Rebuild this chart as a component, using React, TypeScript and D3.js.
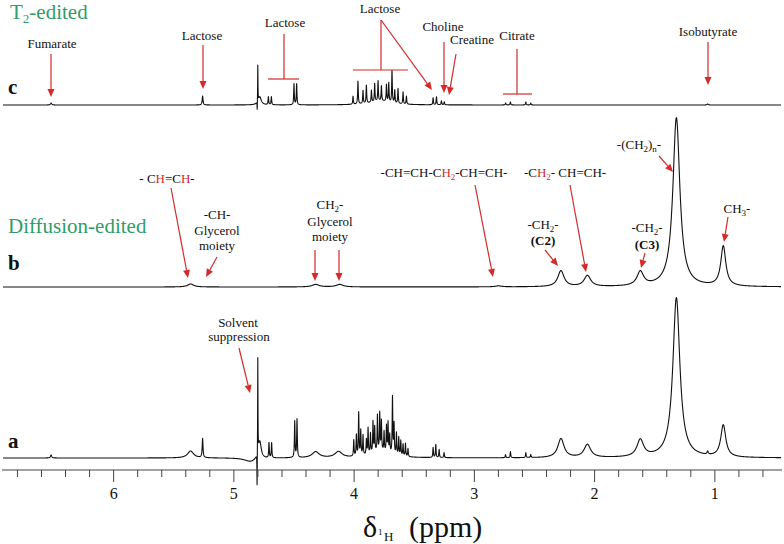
import React from "react";
import * as d3 from "d3";

const WIDTH = 784;
const HEIGHT = 544;
const PPM_LEFT = 6.92;
const PPM_RIGHT = 0.45;

const majorTicks = [6, 5, 4, 3, 2, 1];
const tickLabels = ["6", "5", "4", "3", "2", "1"];

// Peak lists: [chemical shift (ppm), intensity, half-width (ppm)]
const peaksA: [number, number, number][] = [
  [6.52, 3, 0.006],
  [5.36, 7, 0.03],
  [5.26, 19, 0.004],
  [4.86, -4, 0.06],
  [4.801, 96, 0.0015],
  [4.807, -36, 0.0015],
  [4.785, 18, 0.015],
  [4.708, 15, 0.003],
  [4.686, 15, 0.003],
  [4.494, 36, 0.003],
  [4.475, 38, 0.003],
  [4.32, 6, 0.035],
  [4.13, 6, 0.035],
  [4.003, 16, 0.003],
  [3.981, 21, 0.003],
  [3.962, 43, 0.003],
  [3.945, 25, 0.003],
  [3.926, 20, 0.003],
  [3.898, 15, 0.003],
  [3.884, 26, 0.003],
  [3.864, 20, 0.003],
  [3.843, 31, 0.003],
  [3.829, 25, 0.003],
  [3.806, 36, 0.003],
  [3.787, 38, 0.003],
  [3.773, 30, 0.003],
  [3.751, 20, 0.003],
  [3.731, 26, 0.003],
  [3.718, 30, 0.003],
  [3.704, 18, 0.003],
  [3.681, 57, 0.003],
  [3.668, 30, 0.003],
  [3.648, 22, 0.003],
  [3.629, 18, 0.003],
  [3.612, 15, 0.003],
  [3.593, 12, 0.003],
  [3.573, 13, 0.003],
  [3.552, 8, 0.003],
  [3.78, 6, 0.1],
  [3.343, 10, 0.003],
  [3.321, 13, 0.003],
  [3.293, 8, 0.003],
  [3.252, 5, 0.003],
  [2.741, 3, 0.003],
  [2.7, 6, 0.003],
  [2.572, 5, 0.003],
  [2.531, 3, 0.003],
  [2.28, 19, 0.031],
  [2.06, 13, 0.033],
  [1.62, 17, 0.033],
  [1.32, 160, 0.035],
  [1.06, 3, 0.006],
  [0.93, 32, 0.025],
];

const peaksB: [number, number, number][] = [
  [5.36, 3, 0.03],
  [4.32, 2.5, 0.035],
  [4.12, 2.5, 0.035],
  [2.8, 1, 0.03],
  [2.28, 16, 0.031],
  [2.06, 11, 0.033],
  [1.62, 14, 0.033],
  [1.32, 169, 0.035],
  [0.93, 40, 0.025],
];

const peaksC: [number, number, number][] = [
  [6.52, 2, 0.006],
  [5.26, 9, 0.004],
  [4.801, 37, 0.0015],
  [4.806, -10, 0.0015],
  [4.785, 8, 0.015],
  [4.713, 8, 0.003],
  [4.688, 8, 0.003],
  [4.5, 21, 0.003],
  [4.478, 21, 0.003],
  [4.009, 8, 0.003],
  [3.968, 23, 0.003],
  [3.926, 13, 0.003],
  [3.898, 18, 0.003],
  [3.856, 12, 0.003],
  [3.829, 18, 0.003],
  [3.801, 20, 0.003],
  [3.773, 15, 0.003],
  [3.731, 17, 0.003],
  [3.712, 19, 0.003],
  [3.685, 32, 0.003],
  [3.662, 13, 0.003],
  [3.635, 15, 0.003],
  [3.593, 12, 0.003],
  [3.565, 8, 0.003],
  [3.78, 4, 0.1],
  [3.343, 7, 0.003],
  [3.315, 8, 0.003],
  [3.274, 4, 0.003],
  [3.25, 3, 0.003],
  [2.74, 2, 0.003],
  [2.7, 3, 0.003],
  [2.572, 3, 0.003],
  [2.531, 2, 0.003],
  [1.06, 1, 0.006],
];

const spectrumNames = ["a", "b", "c"];

const RED = "#d42a2a";
const GREEN = "#2f9d68";
const FONT = "Liberation Serif";

type Seg = { t: string; sub?: boolean; red?: boolean };

function buildSpectrum(peaks: [number, number, number][]) {
  const grid = d3.range(PPM_LEFT, PPM_RIGHT - 1e-9, -0.001);
  const pts = grid.concat(peaks.map((p) => p[0])).sort((a, b) => b - a);
  return pts.map((ppm) => [
    ppm,
    d3.sum(peaks, ([c, h, w]) => h / (1 + ((ppm - c) / w) ** 2)),
  ]) as [number, number][];
}

function Arrow({ x1, y1, x2, y2, head = true }: { x1: number; y1: number; x2: number; y2: number; head?: boolean }) {
  const ang = Math.atan2(y2 - y1, x2 - x1);
  const L = 8, Wd = 3.5;
  const bx = x2 - L * Math.cos(ang), by = y2 - L * Math.sin(ang);
  const px = -Math.sin(ang) * Wd, py = Math.cos(ang) * Wd;
  return (
    <g>
      <line x1={x1} y1={y1} x2={head ? bx : x2} y2={head ? by : y2} stroke={RED} strokeWidth={1.2} />
      {head && (
        <polygon points={`${x2},${y2} ${bx + px},${by + py} ${bx - px},${by - py}`} fill={RED} />
      )}
    </g>
  );
}

function Label({ x, y, segs, bold = false, size = 13 }: { x: number; y: number; segs: Seg[] | string; bold?: boolean; size?: number }) {
  const list: Seg[] = typeof segs === "string" ? [{ t: segs }] : segs;
  let cur = 0;
  return (
    <text x={x} y={y} textAnchor="middle" fontSize={size} fontFamily={FONT} fontWeight={bold ? "bold" : "normal"} fill="#111">
      {list.map((s, i) => {
        const target = s.sub ? 3 : 0;
        const dy = target - cur;
        cur = target;
        return (
          <tspan key={i} dy={dy} fontSize={s.sub ? 9 : size} fill={s.red ? RED : "#111"}>
            {s.t}
          </tspan>
        );
      })}
    </text>
  );
}

export default function App() {
  const x = d3.scaleLinear().domain([PPM_LEFT, PPM_RIGHT]).range([3, 781]);
  const bases = [458, 287, 105];
  const peakSets = [peaksA, peaksB, peaksC];
  const lines = peakSets.map((peaks, i) => {
    const y = d3.scaleLinear().domain([0, 100]).range([bases[i], bases[i] - 100]);
    const gen = d3.line<[number, number]>().x((d) => x(d[0])).y((d) => y(d[1]));
    return gen(buildSpectrum(peaks)) || "";
  });
  const minorTicks = d3.range(68, 4, -2).map((v) => v / 10).filter((v) => !majorTicks.includes(v));
  const axisY = 470;

  return (
    <svg width={WIDTH} height={HEIGHT} fontFamily={FONT} style={{ position: "absolute", left: 0, top: 0, background: "#fff" }}>
      <rect width={WIDTH} height={HEIGHT} fill="#fff" />
      {lines.map((d, i) => (
        <path key={i} d={d} fill="none" stroke="#111" strokeWidth={1.1} strokeLinejoin="round" />
      ))}

      {/* axis */}
      <line x1={2} x2={782} y1={axisY} y2={axisY} stroke="#444" strokeWidth={1.2} />
      {minorTicks.map((t) => (
        <line key={"m" + t} x1={x(t)} x2={x(t)} y1={axisY} y2={axisY + 7} stroke="#444" strokeWidth={1} />
      ))}
      {majorTicks.map((t, i) => (
        <g key={"M" + t}>
          <line x1={x(t)} x2={x(t)} y1={axisY} y2={axisY + 12} stroke="#444" strokeWidth={1} />
          <text x={x(t)} y={499} textAnchor="middle" fontSize={16} fontFamily={FONT} fill="#111">{tickLabels[i]}</text>
        </g>
      ))}
      <text x={363} y={537} fontSize={30} fontFamily={FONT} fill="#111">δ</text>
      <text x={378} y={535} fontSize={9} fontFamily={FONT} fill="#111">1</text>
      <text x={384} y={541} fontSize={13} fontFamily={FONT} fill="#111">H</text>
      <text x={409} y={537} fontSize={30} fontFamily={FONT} fill="#111">(ppm)</text>

      {/* panel titles */}
      <text x={10} y={19} fontSize={21} fontFamily={FONT} fill={GREEN}>
        <tspan>T</tspan>
        <tspan fontSize={13} dy={4}>2</tspan>
        <tspan dy={-4}>-edited</tspan>
      </text>
      <text x={8} y={233} fontSize={21} fontFamily={FONT} fill={GREEN}>Diffusion-edited</text>
      {spectrumNames.map((n, i) => (
        <text key={n} x={8} y={[448, 270, 94][i]} fontSize={21} fontWeight="bold" fontFamily={FONT} fill="#111">{n}</text>
      ))}

      {/* c annotations */}
      <Label x={52} y={48} segs="Fumarate" />
      <Arrow x1={51} y1={54} x2={51} y2={97} />
      <Label x={202} y={40} segs="Lactose" />
      <Arrow x1={203} y1={45} x2={203} y2={89} />
      <Label x={285} y={27} segs="Lactose" />
      <Arrow x1={284} y1={34} x2={284} y2={79} head={false} />
      <Arrow x1={268} y1={79} x2={299} y2={79} head={false} />
      <Label x={380} y={13} segs="Lactose" />
      <Arrow x1={381} y1={20} x2={381} y2={70} head={false} />
      <Arrow x1={353} y1={70} x2={408} y2={70} head={false} />
      <Arrow x1={381} y1={20} x2={432} y2={90} />
      <Label x={443} y={31} segs="Choline" />
      <Arrow x1={444} y1={42} x2={444} y2={93} />
      <Label x={472} y={44} segs="Creatine" />
      <Arrow x1={456} y1={54} x2={449} y2={95} />
      <Label x={517} y={40} segs="Citrate" />
      <Arrow x1={517} y1={49} x2={517} y2={94} head={false} />
      <Arrow x1={503} y1={94} x2={532} y2={94} head={false} />
      <Label x={708} y={36} segs="Isobutyrate" />
      <Arrow x1={708} y1={42} x2={708} y2={85} />

      {/* b annotations */}
      <Label x={167} y={183} segs={[{ t: "- C" }, { t: "H", red: true }, { t: "=C" }, { t: "H", red: true }, { t: "-" }]} />
      <Arrow x1={171} y1={188} x2={188} y2={278} />
      <Label x={217} y={219} segs="-CH-" />
      <Label x={217} y={235} segs="Glycerol" />
      <Label x={217} y={250} segs="moiety" />
      <Arrow x1={217} y1={257} x2={206} y2={277} />
      <Label x={330} y={209} segs={[{ t: "CH" }, { t: "2", sub: true }, { t: "-" }]} />
      <Label x={330} y={226} segs="Glycerol" />
      <Label x={330} y={241} segs="moiety" />
      <Arrow x1={315} y1={250} x2={315} y2={281} />
      <Arrow x1={339} y1={250} x2={339} y2={281} />
      <Label x={444} y={177} segs={[{ t: "-CH=CH-C" }, { t: "H", red: true }, { t: "2", sub: true, red: true }, { t: "-CH=CH-" }]} />
      <Arrow x1={475} y1={185} x2={493} y2={277} />
      <Label x={565} y={177} segs={[{ t: "-C" }, { t: "H", red: true }, { t: "2", sub: true, red: true }, { t: "- CH=CH-" }]} />
      <Arrow x1={570} y1={185} x2={586} y2={272} />
      <Label x={543} y={229} segs={[{ t: "-CH" }, { t: "2", sub: true }, { t: "-" }]} />
      <Label x={543} y={245} bold segs="(C2)" />
      <Arrow x1={545} y1={250} x2={558} y2={266} />
      <Label x={647} y={232} segs={[{ t: "-CH" }, { t: "2", sub: true }, { t: "-" }]} />
      <Label x={647} y={249} bold segs="(C3)" />
      <Arrow x1={645} y1={253} x2={641} y2={268} />
      <Label x={639} y={149} segs={[{ t: "-(CH" }, { t: "2", sub: true }, { t: ")" }, { t: "n", sub: true }, { t: "-" }]} />
      <Arrow x1={659} y1={156} x2={673} y2={172} />
      <Label x={737} y={213} segs={[{ t: "CH" }, { t: "3", sub: true }, { t: "-" }]} />
      <Arrow x1={728} y1={217} x2={724} y2={242} />

      {/* a annotations */}
      <Label x={238} y={327} segs="Solvent" />
      <Label x={239} y={341} segs="suppression" />
      <Arrow x1={239} y1={348} x2={250} y2={393} />
    </svg>
  );
}
